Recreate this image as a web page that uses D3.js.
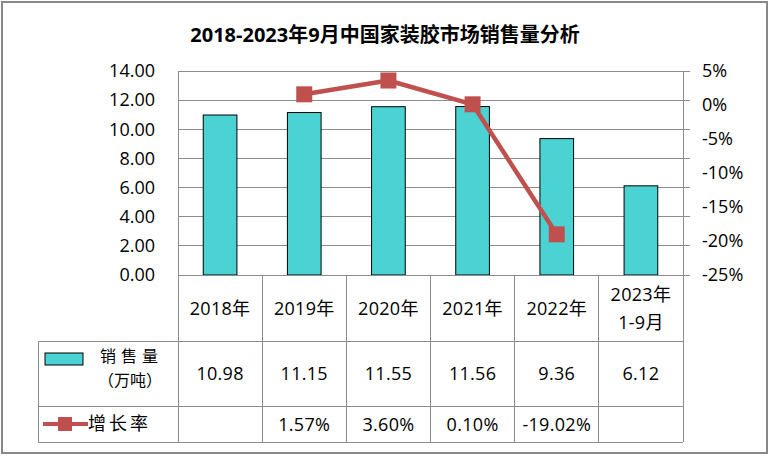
<!DOCTYPE html>
<html><head><meta charset="utf-8">
<script src="https://cdn.jsdelivr.net/npm/d3@7"></script>
<style>
body{margin:0;background:#fff;}
svg text{font-family:"Open Sans","Noto Sans CJK SC",sans-serif;}
</style></head>
<body><svg id="c" width="772" height="456"></svg>
<script>
const categories = ["2018年","2019年","2020年","2021年","2022年","2023年\n1-9月"];
const sales = [10.98, 11.15, 11.55, 11.56, 9.36, 6.12];
const growth = [null, 1.57, 3.60, 0.10, -19.02, null];
const leftTicks = [0,2,4,6,8,10,12,14];
const rightTicks = [5,0,-5,-10,-15,-20,-25];
const title = "2018-2023年9月中国家装胶市场销售量分析";

const svg = d3.select("#c");
const L = 178, R = 683, T = 71, B = 275;
const row1 = 341.5, row2 = 406, row3 = 442, tableLeft = 38;
const teal = "#4BD3D3", red = "#C0504D", grid = "#8c8c8c";

svg.append("rect").attr("x",2).attr("y",2).attr("width",765).attr("height",451)
  .attr("fill","#fff").attr("stroke","#888").attr("stroke-width",2);

svg.append("text").attr("x",385).attr("y",42).attr("text-anchor","middle")
  .attr("font-size",20).attr("font-weight","bold").attr("fill","#000").text(title);

const x = d3.scaleBand().domain(categories).range([L,R]).padding(0);
const y = d3.scaleLinear().domain([0,14]).range([B,T]);
const y2 = d3.scaleLinear().domain([-25,5]).range([B,T]);

// gridlines
svg.append("g").selectAll("line").data(leftTicks).join("line")
  .attr("x1",L).attr("x2",R+7).attr("y1",d=>y(d)).attr("y2",d=>y(d))
  .attr("stroke",grid).attr("stroke-width",1).attr("shape-rendering","crispEdges");
[L,R].forEach(xx=>svg.append("line").attr("x1",xx).attr("x2",xx).attr("y1",T).attr("y2",B)
  .attr("stroke",grid).attr("shape-rendering","crispEdges"));

// left axis labels
const la = d3.axisLeft(y).tickValues(leftTicks).tickFormat(d3.format(".2f")).tickSize(0).tickPadding(0);
const gl = svg.append("g").attr("transform",`translate(${L-23},0)`).call(la);
gl.select(".domain").remove();
gl.selectAll("text").attr("font-size",18).attr("fill","#000").attr("font-family","Open Sans, sans-serif");

// right axis labels
const ra = d3.axisRight(y2).tickValues(rightTicks).tickFormat(d=>d+"%").tickSize(0).tickPadding(0);
const gr = svg.append("g").attr("transform",`translate(${R+19},0)`).call(ra);
gr.select(".domain").remove();
gr.selectAll("text").attr("font-size",18).attr("fill","#000").attr("font-family","Open Sans, sans-serif");

// bars
const bw = x.bandwidth()*0.4;
svg.append("g").selectAll("rect").data(sales).join("rect")
  .attr("x",(d,i)=>x(categories[i])+x.bandwidth()/2-bw/2)
  .attr("width",bw).attr("y",d=>y(d)).attr("height",d=>B-y(d))
  .attr("fill",teal).attr("stroke","#000").attr("stroke-width",1);

// line
const pts = growth.map((g,i)=>({g,i})).filter(d=>d.g!==null);
const line = d3.line().x(d=>x(categories[d.i])+x.bandwidth()/2).y(d=>y2(d.g));
svg.append("path").datum(pts).attr("d",line).attr("fill","none")
  .attr("stroke",red).attr("stroke-width",4.5).attr("stroke-linejoin","round");
svg.append("g").selectAll("rect").data(pts).join("rect")
  .attr("x",d=>x(categories[d.i])+x.bandwidth()/2-8).attr("y",d=>y2(d.g)-8)
  .attr("width",16).attr("height",16).attr("fill",red);

// table
const tg = svg.append("g").attr("stroke",grid).attr("shape-rendering","crispEdges");
tg.append("line").attr("x1",L).attr("x2",R).attr("y1",B).attr("y2",B);
[row1,row2,row3].forEach(yy=>tg.append("line").attr("x1",tableLeft).attr("x2",R).attr("y1",yy).attr("y2",yy));
categories.forEach(c=>tg.append("line").attr("x1",x(c)).attr("x2",x(c)).attr("y1",B).attr("y2",row3));
tg.append("line").attr("x1",R).attr("x2",R).attr("y1",B).attr("y2",row3);
tg.append("line").attr("x1",tableLeft).attr("x2",tableLeft).attr("y1",row1).attr("y2",row3);

const tt = svg.append("g").attr("font-size",18).attr("fill","#000").attr("text-anchor","middle")
  .attr("letter-spacing",0.3);
categories.forEach(c=>{
  const parts = c.split("\n");
  const cx = x(c)+x.bandwidth()/2;
  parts.forEach((p,k)=>{
    const cy = parts.length===1 ? 309 : 295 + k*28;
    tt.append("text").attr("x",cx).attr("y",cy).attr("dy","0.35em").text(p);
  });
});
sales.forEach((v,i)=>{
  tt.append("text").attr("x",x(categories[i])+x.bandwidth()/2).attr("y",374).attr("dy","0.35em").text(v.toFixed(2));
});
growth.forEach((v,i)=>{
  if(v===null) return;
  tt.append("text").attr("x",x(categories[i])+x.bandwidth()/2).attr("y",425).attr("dy","0.35em").text(v.toFixed(2)+"%");
});

// legend keys in table
svg.append("rect").attr("x",45).attr("y",353).attr("width",38).attr("height",12)
  .attr("fill",teal).attr("stroke","#000").attr("stroke-width",1);
svg.append("text").attr("x",100).attr("y",356).attr("dy","0.35em")
  .attr("font-size",16).attr("letter-spacing",5).attr("font-family","Noto Sans CJK SC").text("销售量");
svg.append("text").attr("x",130).attr("y",380).attr("dy","0.35em").attr("text-anchor","middle")
  .attr("font-size",16).attr("font-family","Noto Sans CJK SC").text("（万吨）");
svg.append("line").attr("x1",43).attr("x2",88).attr("y1",424).attr("y2",424)
  .attr("stroke",red).attr("stroke-width",4);
svg.append("rect").attr("x",58).attr("y",417).attr("width",14).attr("height",14).attr("fill",red);
svg.append("text").attr("x",88).attr("y",424).attr("dy","0.35em").attr("letter-spacing",3)
  .attr("font-size",18).attr("font-family","Noto Sans CJK SC").text("增长率");
</script></body></html>
